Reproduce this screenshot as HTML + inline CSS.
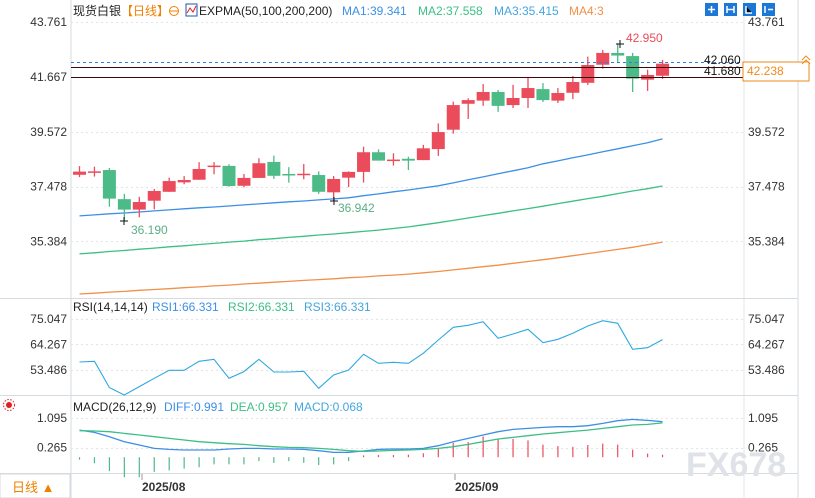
<!DOCTYPE html>
<html><head><meta charset="utf-8">
<style>
html,body{margin:0;padding:0;background:#fff;}
svg{display:block;font-family:"Liberation Sans","Noto Sans CJK SC",sans-serif;}
</style></head>
<body>
<svg id="c" width="815" height="498" viewBox="0 0 815 498" xmlns="http://www.w3.org/2000/svg">
<rect x="0" y="0" width="815" height="498" fill="#fff"/>
<g id="frame">
<line x1="71" y1="0" x2="71" y2="498" stroke="#d6dbe0"/>
<line x1="744" y1="0" x2="744" y2="498" stroke="#e3e6ea"/>
<line x1="798" y1="0" x2="798" y2="498" stroke="#d6dbe0"/>
<line x1="0" y1="298.5" x2="798" y2="298.5" stroke="#d6dbe0"/>
<line x1="0" y1="395.5" x2="798" y2="395.5" stroke="#d6dbe0"/>
<line x1="0" y1="473.5" x2="798" y2="473.5" stroke="#d6dbe0"/>
</g>
<g font-size="12">
<text x="73" y="15" fill="#222">现货白银</text>
<text x="121" y="15" fill="#f08000">【日线】</text>
<circle cx="174" cy="11" r="4.5" fill="none" stroke="#f08000"/>
<line x1="170" y1="11" x2="178" y2="11" stroke="#f08000"/>
<rect x="186" y="4" width="11" height="12" fill="#fff" stroke="#2255aa"/>
<polyline points="187,13 190,8 193,12 196,6" fill="none" stroke="#d22"/>
<text x="199" y="15" fill="#222">EXPMA(50,100,200,200)</text>
<text x="342" y="15" fill="#3d8fe6">MA1:39.341</text>
<text x="418" y="15" fill="#3cbf86">MA2:37.558</text>
<text x="494" y="15" fill="#44a6e0">MA3:35.415</text>
<text x="569" y="15" fill="#f0904a">MA4:3</text>
<g>
<rect x="705" y="3" width="13" height="13" fill="#1c78d6"/>
<rect x="724" y="3" width="13" height="13" fill="#1c78d6"/>
<rect x="743" y="3" width="13" height="13" fill="#1c78d6"/>
<rect x="762" y="3" width="13" height="13" fill="#1c78d6"/>
<path d="M708 9.5h7M711.5 6v7M727 6v7M734 6v7M727 9.5h7M746 6v7h6M765 6v7M768 9.5h5" stroke="#fff" stroke-width="1.5"/>
</g>
</g>
<g id="axes" font-size="12" fill="#333"></g>
<g id="grid"></g>
<g id="ma"></g>
<g id="candles"></g>
<g id="rsi"></g>
<g id="macd"></g>
<g>
<line x1="71" y1="62.5" x2="744" y2="62.5" stroke="#2f7fe0" stroke-dasharray="3,3"/>
<line x1="71" y1="67.5" x2="744" y2="67.5" stroke="#3a0a0a"/>
<line x1="71" y1="77.5" x2="744" y2="77.5" stroke="#3a0a0a"/>
<text x="704" y="64" font-size="12" fill="#111">42.060</text>
<text x="704" y="75" font-size="12" fill="#111">41.680</text>
<rect x="743" y="62" width="66" height="19" fill="#fff" stroke="#f08a1c"/>
<text x="747" y="75" font-size="12" fill="#f08a1c">42.238</text>
<path d="M802 60l4-4 4 4M802 64l4-4 4 4" stroke="#f08a1c" fill="none"/>
</g>
<g font-size="12">
<path d="M616 44h8M620 40v8M120 221h8M124 217v8M330 201h8M334 197v8" stroke="#111"/>
<text x="626" y="42" fill="#e94b5b">42.950</text>
<text x="131" y="234" fill="#5aae86">36.190</text>
<text x="338" y="212" fill="#5aae86">36.942</text>
</g>
<g font-size="12">
<text x="73" y="311" fill="#222">RSI(14,14,14)</text>
<text x="152" y="311" fill="#3d8fe6">RSI1:66.331</text>
<text x="228" y="311" fill="#3cbf86">RSI2:66.331</text>
<text x="304" y="311" fill="#44a6e0">RSI3:66.331</text>
<text x="73" y="411" fill="#222">MACD(26,12,9)</text>
<text x="164" y="411" fill="#3d8fe6">DIFF:0.991</text>
<text x="230" y="411" fill="#3cbf86">DEA:0.957</text>
<text x="294" y="411" fill="#44a6e0">MACD:0.068</text>
<g><circle cx="9" cy="405" r="3" fill="#e02020"/><circle cx="9" cy="405" r="5.5" fill="none" stroke="#e02020" stroke-dasharray="1.5,1.5"/></g>
</g>
<g font-size="12">
<line x1="142" y1="474" x2="142" y2="480" stroke="#999"/>
<line x1="455" y1="474" x2="455" y2="480" stroke="#999"/>
<text x="142" y="491" fill="#333" font-weight="bold">2025/08</text>
<text x="455" y="491" fill="#333" font-weight="bold">2025/09</text>
<rect x="0" y="474" width="70" height="24" fill="#fff" stroke="#d6dbe0"/>
<text x="12" y="492" fill="#f08000" font-size="13">日线 ▲</text>
</g>
<text x="686" y="476" font-size="34" fill="#dfe3e8" font-weight="bold">FX678</text>
</svg>
<script>
const opens=[37.93,38.04,38.11,37.00,36.60,36.94,37.28,37.64,37.74,38.24,38.27,37.51,37.81,38.42,37.96,37.94,37.92,37.26,37.82,38.04,38.79,38.48,38.54,38.49,38.91,39.65,40.64,40.76,41.09,40.59,40.86,41.20,40.76,41.06,41.44,42.13,42.58,42.46,41.56,41.71];
const closes=[38.05,38.06,37.02,36.60,36.89,37.31,37.69,37.73,38.15,38.28,37.50,37.81,38.37,37.89,37.93,37.97,37.28,37.77,38.04,38.79,38.47,38.51,38.47,38.94,39.56,40.59,40.78,41.09,40.56,40.86,41.24,40.78,41.05,41.47,42.12,42.58,42.48,41.60,41.74,42.17];
const highs=[38.26,38.24,38.19,37.20,37.09,37.39,37.82,37.88,38.41,38.41,38.33,37.96,38.56,38.66,38.22,38.34,38.06,37.88,38.06,39.00,38.90,38.75,38.62,39.07,39.89,40.72,40.85,41.39,41.17,41.36,41.65,41.43,41.24,41.70,42.44,42.69,42.95,42.58,41.94,42.31];
const lows=[37.84,37.86,36.71,36.19,36.31,36.61,37.28,37.57,37.74,37.95,37.47,37.45,37.81,37.77,37.63,37.76,37.20,36.942,37.46,37.63,38.47,38.28,38.11,38.49,38.65,39.50,40.06,40.56,40.33,40.48,40.48,40.71,40.67,40.82,41.36,41.98,42.19,41.09,41.13,41.59];
const ma1=[36.36,36.40,36.44,36.47,36.51,36.55,36.59,36.63,36.67,36.70,36.74,36.78,36.82,36.86,36.90,36.93,36.97,37.01,37.05,37.13,37.20,37.28,37.35,37.43,37.51,37.62,37.74,37.85,37.97,38.08,38.20,38.35,38.46,38.58,38.69,38.81,38.92,39.04,39.15,39.30];
const ma2=[34.91,34.95,35.00,35.04,35.09,35.13,35.18,35.22,35.27,35.31,35.36,35.40,35.45,35.49,35.54,35.58,35.63,35.67,35.72,35.77,35.82,35.88,35.94,36.02,36.10,36.19,36.28,36.37,36.46,36.55,36.64,36.73,36.83,36.92,37.02,37.11,37.21,37.31,37.40,37.50];
const ma3=[33.38,33.41,33.45,33.48,33.52,33.55,33.58,33.62,33.65,33.69,33.72,33.76,33.79,33.83,33.86,33.90,33.93,33.96,34.00,34.03,34.07,34.10,34.14,34.19,34.24,34.30,34.36,34.42,34.48,34.55,34.62,34.69,34.76,34.84,34.92,35.00,35.08,35.16,35.26,35.36];
const rsi=[56.87,57.15,46.02,42.92,46.45,49.97,53.35,53.35,57.15,58.00,49.97,52.79,58.00,52.65,52.65,52.93,45.74,51.38,53.49,60.11,56.31,56.73,56.31,60.54,66.17,71.52,72.37,73.92,66.87,68.71,70.68,65.04,66.45,68.99,72.09,74.34,73.22,62.22,62.93,66.33];
const diff=[0.758,0.693,0.572,0.433,0.340,0.246,0.218,0.200,0.200,0.200,0.228,0.246,0.246,0.228,0.228,0.218,0.181,0.135,0.135,0.172,0.218,0.228,0.228,0.246,0.321,0.433,0.526,0.619,0.712,0.777,0.805,0.833,0.852,0.852,0.879,0.945,1.019,1.056,1.028,0.991];
const dea=[0.740,0.731,0.712,0.665,0.619,0.572,0.526,0.479,0.433,0.405,0.377,0.358,0.321,0.293,0.274,0.265,0.246,0.218,0.181,0.163,0.172,0.191,0.200,0.218,0.246,0.293,0.358,0.433,0.507,0.554,0.600,0.647,0.684,0.721,0.758,0.805,0.852,0.898,0.917,0.957];
const hist=[-0.07,-0.17,-0.39,-0.56,-0.56,-0.41,-0.37,-0.32,-0.28,-0.20,-0.20,-0.20,-0.11,-0.16,-0.11,-0.16,-0.22,-0.20,-0.11,0.05,0.06,0.06,0.07,0.11,0.23,0.40,0.42,0.58,0.51,0.51,0.47,0.35,0.31,0.29,0.34,0.38,0.35,0.21,0.10,0.068];
const priceTicks=["43.761","41.667","39.572","37.478","35.384"];
const rsiTicks=["75.047","64.267","53.486"];
const macdTicks=["1.095","0.265"];

const NS="http://www.w3.org/2000/svg";
function mk(tag,attrs,parent){const e=document.createElementNS(NS,tag);for(const k in attrs)e.setAttribute(k,attrs[k]);parent.appendChild(e);return e;}
const xs=i=>79.5+i*14.95;
const yP=p=>22+(43.761-p)*26.2;
const yR=v=>319+(75.047-v)*2.365;
const yM=v=>447.7-(v-0.265)*35.8;
const RED="#ea4c5c",GREEN="#4dbb87";
const axes=document.getElementById('axes'),grid=document.getElementById('grid');
function tick(lbl,y){
  const t1=mk('text',{x:67,y:y+4,'text-anchor':'end'},axes);t1.textContent=lbl;
  
  
  const t2=mk('text',{x:748,y:y+4},axes);t2.textContent=lbl;
  
  
  const g=mk('line',{x1:71,x2:744,y1:Math.round(y)+0.5,y2:Math.round(y)+0.5,stroke:'#e2e5e8','stroke-dasharray':'2,3'},grid);
  
  
}
priceTicks.forEach(t=>tick(t,yP(+t)));
rsiTicks.forEach(t=>tick(t,yR(+t)));
macdTicks.forEach(t=>tick(t,yM(+t)));
const ma=document.getElementById('ma');
[[ma1,'#3d8fe6','ma1-line'],[ma2,'#3cbf86','ma2-line'],[ma3,'#f0904a','ma3-line']].forEach(([arr,c,n])=>{
  const pl=mk('polyline',{points:arr.map((v,i)=>xs(i).toFixed(1)+','+yP(v).toFixed(1)).join(' '),fill:'none',stroke:c,'stroke-width':1.3},ma);
  
  
});
const cg=document.getElementById('candles');
opens.forEach((o,i)=>{
  const c=closes[i],up=c>=o,col=up?RED:GREEN,x=xs(i);
  const w=mk('line',{x1:x,x2:x,y1:yP(highs[i]),y2:yP(lows[i]),stroke:col,'stroke-width':1.3},cg);
  
  
  const top=yP(Math.max(o,c)),h=Math.max(1.5,Math.abs(yP(o)-yP(c)));
  const b=mk('rect',{x:x-6.5,y:top,width:13,height:h,fill:col},cg);
  
  
});
const rg=document.getElementById('rsi');
const rl=mk('polyline',{points:rsi.map((v,i)=>xs(i).toFixed(1)+','+yR(v).toFixed(1)).join(' '),fill:'none',stroke:'#2fa8e0','stroke-width':1.1},rg);


const mg=document.getElementById('macd');
hist.forEach((v,i)=>{
  const y0=yM(0),y1=yM(v);
  const l=mk('line',{x1:xs(i),x2:xs(i),y1:y0,y2:y1,stroke:v>=0?RED:GREEN,'stroke-width':1.2},mg);
  
  
});
[[diff,'#3d8fe6','diff-line'],[dea,'#3cbf86','dea-line']].forEach(([arr,c,n])=>{
  const pl=mk('polyline',{points:arr.map((v,i)=>xs(i).toFixed(1)+','+yM(v).toFixed(1)).join(' '),fill:'none',stroke:c,'stroke-width':1.3},mg);
  
  
});
</script>
</body></html>
